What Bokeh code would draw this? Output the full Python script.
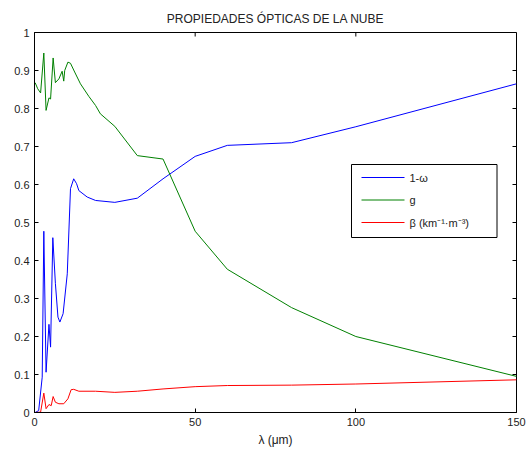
from bokeh.plotting import figure
from bokeh.models import Range1d, FixedTicker
from bokeh.core.properties import value
from bokeh.embed import file_html
from bokeh.resources import INLINE

# ---- data ----
lam_b = [0.2, 1.3, 2.4, 2.9, 3.6, 4.5, 5.0, 5.7, 6.5, 7.3, 7.9, 8.9, 10.2, 11.2, 12.2,
         13.1, 13.8, 16.4, 19, 25, 32, 40, 50, 60, 80, 100, 150]
one_minus_omega = [0.0, 0.005, 0.093, 0.477, 0.106, 0.232, 0.172, 0.46, 0.34, 0.251, 0.238,
                   0.26, 0.365, 0.589, 0.615, 0.602, 0.584, 0.567, 0.558, 0.553, 0.564,
                   0.615, 0.674, 0.703, 0.710, 0.752, 0.865]

lam_g = [0.2, 1.0, 1.9, 2.9, 3.6, 4.5, 5.0, 5.8, 6.5, 7.6, 8.6, 9.1, 9.4, 10.4, 11.2, 12.5,
         14.3, 16.9, 19, 20.5, 25, 32, 40, 50, 60, 80, 100, 150]
g_vals = [0.868, 0.852, 0.841, 0.946, 0.795, 0.828, 0.825, 0.933, 0.868, 0.878, 0.898,
          0.872, 0.90, 0.922, 0.919, 0.896, 0.865, 0.832, 0.808, 0.786, 0.753, 0.676,
          0.667, 0.477, 0.377, 0.276, 0.200, 0.095]

lam_r = [0.2, 1.9, 2.9, 3.6, 4.5, 5.2, 5.8, 6.5, 7.6, 9.1, 10.4, 11.4, 12.2, 13.8, 19, 25,
         32, 40, 50, 60, 80, 100, 150]
beta = [0.0, 0.001, 0.051, 0.010, 0.021, 0.018, 0.042, 0.027, 0.023, 0.023, 0.036, 0.060,
        0.061, 0.056, 0.056, 0.053, 0.056, 0.062, 0.068, 0.071, 0.072, 0.075, 0.086]

x_ticks = [0, 50, 100, 150]
y_ticks = [0, 0.1, 0.2, 0.3, 0.4, 0.5, 0.6, 0.7, 0.8, 0.9, 1.0]
y_tick_labels = ["0", "0.1", "0.2", "0.3", "0.4", "0.5", "0.6", "0.7", "0.8", "0.9", "1"]

labels = ["1-\u03c9", "g", "\u03b2 (km\u207b\u00b9\u00b7m\u207b\u00b3)"]
colors = ["#0000ff", "#008000", "#ff0000"]
title_text = "PROPIEDADES \u00d3PTICAS DE LA NUBE"
xlabel = "\u03bb (\u03bcm)"

X_MIN, X_MAX = 0, 150
Y_MIN, Y_MAX = 0, 1

# ---- layout (pixels) ----
W, H = 526, 455
B_LEFT, B_RIGHT, B_TOP, B_BOTTOM = 34, 10, 32, 43
FRAME_W = W - B_LEFT - B_RIGHT
FRAME_H = H - B_TOP - B_BOTTOM
TICK = 4
FONT = "Liberation Sans"
TXT = "#222222"


def px_x(px):
    """frame-relative pixel -> data x"""
    return X_MIN + px * (X_MAX - X_MIN) / FRAME_W


def px_y(py):
    """frame-relative pixel (from bottom) -> data y"""
    return Y_MIN + py * (Y_MAX - Y_MIN) / FRAME_H


p = figure(width=W, height=H, output_backend="svg", toolbar_location=None,
           x_range=Range1d(X_MIN, X_MAX), y_range=Range1d(Y_MIN, Y_MAX),
           min_border_left=B_LEFT, min_border_right=B_RIGHT,
           min_border_top=B_TOP, min_border_bottom=B_BOTTOM)

p.title.text = title_text
p.title.align = "center"
p.title.text_font = FONT
p.title.text_font_size = "12px"
p.title.text_font_style = "normal"
p.title.text_color = TXT
p.title.offset = -5
p.title.standoff = 14

p.xgrid.visible = False
p.ygrid.visible = False
p.outline_line_color = "black"
p.outline_line_width = 1
p.outline_line_alpha = 1

p.xaxis.ticker = FixedTicker(ticks=x_ticks)
p.yaxis.ticker = FixedTicker(ticks=y_ticks)
p.yaxis.major_label_overrides = {t: l for t, l in zip(y_ticks, y_tick_labels)}
p.xaxis.axis_label = xlabel
for ax in (p.xaxis[0], p.yaxis[0]):
    ax.major_tick_in = TICK
    ax.major_tick_out = 0
    ax.minor_tick_in = 0
    ax.minor_tick_out = 0
    ax.axis_line_color = "black"
    ax.major_tick_line_color = "black"
    ax.major_label_text_font = FONT
    ax.major_label_text_font_size = "11px"
    ax.major_label_text_color = TXT
    ax.major_label_standoff = 5
    ax.axis_label_text_font = FONT
    ax.axis_label_text_font_size = "12px"
    ax.axis_label_text_font_style = "normal"
    ax.axis_label_text_color = TXT
    ax.axis_label_standoff = 4

# mirrored ticks on top and right (MATLAB box on)
dy = TICK * (Y_MAX - Y_MIN) / FRAME_H
dx = TICK * (X_MAX - X_MIN) / FRAME_W
p.segment(x0=x_ticks, y0=[Y_MAX] * len(x_ticks), x1=x_ticks, y1=[Y_MAX - dy] * len(x_ticks),
          line_color="black", line_width=1)
p.segment(x0=[X_MAX] * len(y_ticks), y0=y_ticks, x1=[X_MAX - dx] * len(y_ticks), y1=y_ticks,
          line_color="black", line_width=1)

p.line(lam_b, one_minus_omega, line_color=colors[0], line_width=1)
p.line(lam_g, g_vals, line_color=colors[1], line_width=1)
p.line(lam_r, beta, line_color=colors[2], line_width=1)

# legend (box, sample lines and labels placed in frame pixels)
LG_LEFT, LG_RIGHT, LG_BOTTOM, LG_TOP = 317, 462.5, 175, 248
row_py = [235, 212.5, 190]
p.quad(left=[px_x(LG_LEFT)], right=[px_x(LG_RIGHT)], bottom=[px_y(LG_BOTTOM)], top=[px_y(LG_TOP)],
       fill_color="white", fill_alpha=1, line_color="black", line_width=1)
p.segment(x0=[px_x(LG_LEFT + 10)] * 3, x1=[px_x(LG_LEFT + 53)] * 3,
          y0=[px_y(v) for v in row_py], y1=[px_y(v) for v in row_py],
          line_color=colors, line_width=1)
p.text(x=[px_x(LG_LEFT + 58)] * 3, y=[px_y(v) for v in row_py], text=labels,
       text_font=value(FONT), text_font_size="11px", text_color=TXT,
       text_baseline="middle", text_align="left")

open("out.html", "w").write(file_html(p, INLINE))
